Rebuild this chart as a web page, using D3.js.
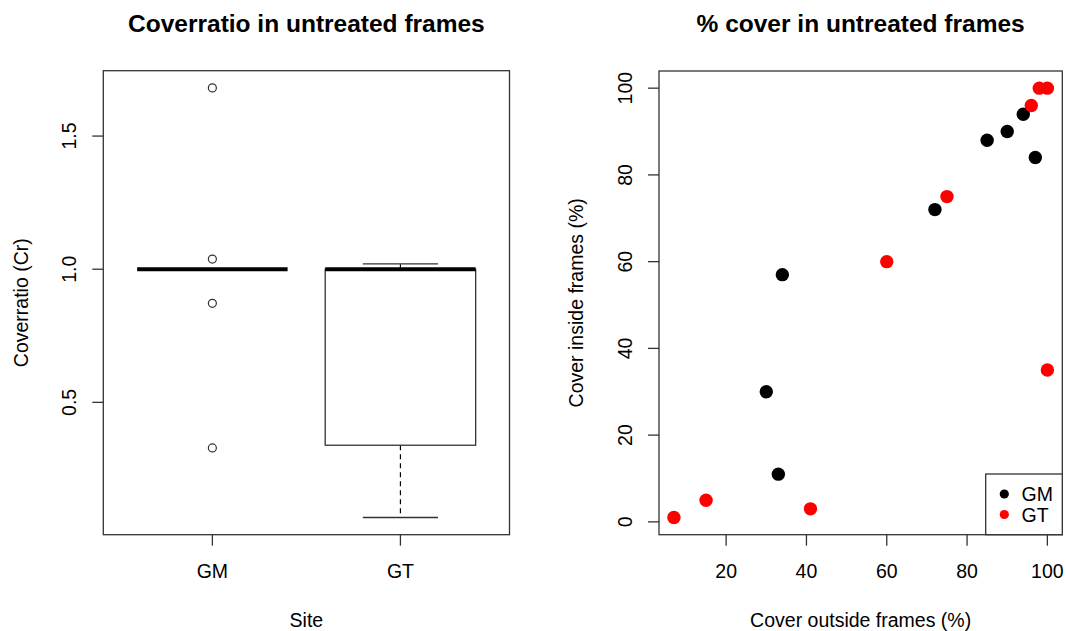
<!DOCTYPE html>
<html>
<head>
<meta charset="utf-8">
<script src="https://cdn.jsdelivr.net/npm/d3@7"></script>
<style>
  body { margin: 0; background: #fff; }
  text { font-family: "Liberation Sans", Arial, sans-serif; fill: #000; }
</style>
</head>
<body>
<div id="charts"></div>
<script>
// boxplot summary per site (Coverratio)
const sites = ['GM', 'GT'];
const q1 = [1.0, 0.339];
const medians = [1.0, 1.0];
const q3 = [1.0, 1.0];
const whiskerLo = [1.0, 0.0675];
const whiskerHi = [1.0, 1.02];
const outliers = [[1.681, 1.038, 0.872, 0.329], []];
const boxTicks = [0.5, 1.0, 1.5];

// scatter: cover outside vs inside frames
const gmX = [34, 72, 85, 90, 94, 97, 30, 33];
const gmY = [57, 72, 88, 90, 94, 84, 30, 11];
const gtX = [60, 75, 96, 98, 100, 100, 7, 15, 41];
const gtY = [60, 75, 96, 100, 100, 35, 1, 5, 3];
const xTicks = [20, 40, 60, 80, 100];
const yTicks = [0, 20, 40, 60, 80, 100];
const legendNames = ['GM', 'GT'];
const legendColors = ['#000', '#ff0000'];

window.onload = init;

function init()
{
    const width = 1066;
    const height = 631;
    const svg = d3.select('#charts').append('svg').attr('width', width).attr('height', height);
    const stroke = '#333';
    const tickLen = 11;

    // ---- left: boxplot ----
    const L = {left: 103.3, right: 509.5, top: 70.7, bottom: 534.7};
    const bx = d3.scaleLinear().domain([0.42, 2.58]).range([L.left, L.right]);
    const by = d3.scaleLinear().domain([0.003, 1.7455]).range([L.bottom, L.top]);
    const g1 = svg.append('g');

    sites.forEach((s, i) => {
        const c = i + 1;
        // whiskers
        g1.append('line').attr('x1', bx(c)).attr('x2', bx(c)).attr('y1', by(q1[i])).attr('y2', by(whiskerLo[i]))
            .attr('stroke', '#000').attr('stroke-width', 1.2).attr('stroke-dasharray', '5,4');
        g1.append('line').attr('x1', bx(c)).attr('x2', bx(c)).attr('y1', by(q3[i])).attr('y2', by(whiskerHi[i]))
            .attr('stroke', '#000').attr('stroke-width', 1.2).attr('stroke-dasharray', '5,4');
        [whiskerLo[i], whiskerHi[i]].forEach(v => {
            g1.append('line').attr('x1', bx(c - 0.2)).attr('x2', bx(c + 0.2)).attr('y1', by(v)).attr('y2', by(v))
                .attr('stroke', stroke).attr('stroke-width', 1.3);
        });
        // box
        g1.append('rect').attr('x', bx(c - 0.4)).attr('y', by(q3[i]))
            .attr('width', bx(c + 0.4) - bx(c - 0.4)).attr('height', by(q1[i]) - by(q3[i]))
            .attr('fill', 'none').attr('stroke', stroke).attr('stroke-width', 1.3);
        // median
        g1.append('line').attr('x1', bx(c - 0.4)).attr('x2', bx(c + 0.4)).attr('y1', by(medians[i])).attr('y2', by(medians[i]))
            .attr('stroke', '#000').attr('stroke-width', 4);
        // outliers
        g1.selectAll(null).data(outliers[i]).enter().append('circle')
            .attr('cx', bx(c)).attr('cy', d => by(d)).attr('r', 4)
            .attr('fill', 'none').attr('stroke', stroke).attr('stroke-width', 1.2);
    });

    g1.append('rect').attr('x', L.left).attr('y', L.top).attr('width', L.right - L.left).attr('height', L.bottom - L.top)
        .attr('fill', 'none').attr('stroke', stroke).attr('stroke-width', 1.3);

    // axes
    const bxAxis = g1.append('g');
    sites.forEach((s, i) => {
        bxAxis.append('line').attr('x1', bx(i + 1)).attr('x2', bx(i + 1)).attr('y1', L.bottom).attr('y2', L.bottom + tickLen)
            .attr('stroke', stroke).attr('stroke-width', 1.3);
        bxAxis.append('text').attr('x', bx(i + 1)).attr('y', 578).attr('text-anchor', 'middle')
            .style('font-size', '19.5px').text(s);
    });
    boxTicks.forEach(t => {
        g1.append('line').attr('x1', L.left - tickLen).attr('x2', L.left).attr('y1', by(t)).attr('y2', by(t))
            .attr('stroke', stroke).attr('stroke-width', 1.3);
        g1.append('text').attr('transform', 'translate(76,' + by(t) + ') rotate(-90)').attr('text-anchor', 'middle')
            .style('font-size', '19.5px').text(d3.format('.1f')(t));
    });
    g1.append('text').attr('x', (L.left + L.right) / 2).attr('y', 31.5).attr('text-anchor', 'middle')
        .style('font-size', '24.5px').style('font-weight', 'bold').text('Coverratio in untreated frames');
    g1.append('text').attr('x', (L.left + L.right) / 2).attr('y', 627).attr('text-anchor', 'middle')
        .style('font-size', '19.5px').text('Site');
    g1.append('text').attr('transform', 'translate(28,' + (L.top + L.bottom) / 2 + ') rotate(-90)').attr('text-anchor', 'middle')
        .style('font-size', '19.5px').text('Coverratio (Cr)');

    // ---- right: scatter ----
    const R = {left: 659, right: 1062.3, top: 71, bottom: 534.7};
    const sx = d3.scaleLinear().domain([3.28, 103.72]).range([R.left, R.right]);
    const sy = d3.scaleLinear().domain([-2.96, 103.96]).range([R.bottom, R.top]);
    const g2 = svg.append('g');

    const gm = gmX.map((x, i) => ({x: x, y: gmY[i]}));
    const gt = gtX.map((x, i) => ({x: x, y: gtY[i]}));
    g2.selectAll('.gm').data(gm).enter().append('circle').attr('class', 'gm')
        .attr('cx', d => sx(d.x)).attr('cy', d => sy(d.y)).attr('r', 6.7).attr('fill', legendColors[0]);
    g2.selectAll('.gt').data(gt).enter().append('circle').attr('class', 'gt')
        .attr('cx', d => sx(d.x)).attr('cy', d => sy(d.y)).attr('r', 6.7).attr('fill', legendColors[1]);

    g2.append('rect').attr('x', R.left).attr('y', R.top).attr('width', R.right - R.left).attr('height', R.bottom - R.top)
        .attr('fill', 'none').attr('stroke', stroke).attr('stroke-width', 1.3);

    xTicks.forEach(t => {
        g2.append('line').attr('x1', sx(t)).attr('x2', sx(t)).attr('y1', R.bottom).attr('y2', R.bottom + tickLen)
            .attr('stroke', stroke).attr('stroke-width', 1.3);
        g2.append('text').attr('x', sx(t)).attr('y', 578).attr('text-anchor', 'middle')
            .style('font-size', '19.5px').text(t);
    });
    yTicks.forEach(t => {
        g2.append('line').attr('x1', R.left - tickLen).attr('x2', R.left).attr('y1', sy(t)).attr('y2', sy(t))
            .attr('stroke', stroke).attr('stroke-width', 1.3);
        g2.append('text').attr('transform', 'translate(631.5,' + sy(t) + ') rotate(-90)').attr('text-anchor', 'middle')
            .style('font-size', '19.5px').text(t);
    });
    g2.append('text').attr('x', (R.left + R.right) / 2).attr('y', 31.5).attr('text-anchor', 'middle')
        .style('font-size', '24.5px').style('font-weight', 'bold').text('% cover in untreated frames');
    g2.append('text').attr('x', (R.left + R.right) / 2).attr('y', 627).attr('text-anchor', 'middle')
        .style('font-size', '19.5px').text('Cover outside frames (%)');
    g2.append('text').attr('transform', 'translate(583,' + (R.top + R.bottom) / 2 + ') rotate(-90)').attr('text-anchor', 'middle')
        .style('font-size', '19.5px').text('Cover inside frames (%)');

    // legend, bottom right
    const lg = g2.append('g');
    lg.append('rect').attr('x', 985.7).attr('y', 474).attr('width', R.right - 985.7).attr('height', R.bottom - 474)
        .attr('fill', '#fff').attr('stroke', stroke).attr('stroke-width', 1.3);
    legendNames.forEach((n, i) => {
        lg.append('circle').attr('cx', 1004.3).attr('cy', 494 + i * 20.5).attr('r', 4.6).attr('fill', legendColors[i]);
        lg.append('text').attr('x', 1021.5).attr('y', 494 + i * 20.5 + 7).style('font-size', '19.5px').text(n);
    });
}
</script>
</body>
</html>
